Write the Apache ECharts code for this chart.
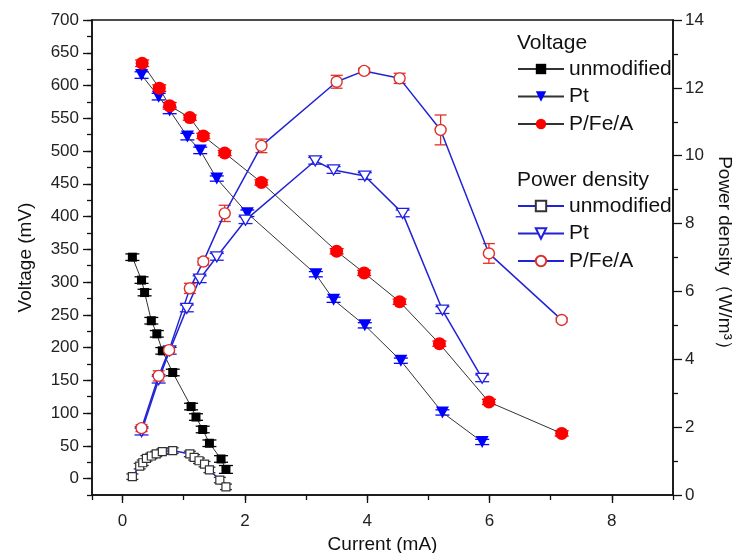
<!DOCTYPE html>
<html>
<head>
<meta charset="utf-8">
<script src="https://cdn.jsdelivr.net/npm/echarts@6/dist/echarts.min.js"></script>
<style>
html,body{margin:0;padding:0;background:#fff;}
#chart{width:748px;height:553px;}
</style>
</head>
<body>
<div id="chart"></div>
<script>
// ---- data ----
const currentVUnmod = [0.16, 0.31, 0.36, 0.47, 0.56, 0.65, 0.82, 1.12, 1.20, 1.31, 1.42, 1.61, 1.69];
const voltUnmod     = [338, 303, 284, 241, 221, 195, 162, 110, 94, 75, 54, 30, 14];
const errVUnmod     = [5, 5, 5, 5, 5, 5, 5, 5, 5, 5, 5, 5, 6];

const currentVPt = [0.31, 0.59, 0.77, 1.06, 1.27, 1.54, 2.04, 3.16, 3.45, 3.96, 4.55, 5.23, 5.88];
const voltPt     = [616, 583, 562, 522, 501, 458, 405, 312, 273, 234, 180, 101, 56];
const errVPt     = [5, 5, 5, 5, 5, 4, 5, 4, 4, 4, 4, 4, 4];

const currentVPFA = [0.32, 0.60, 0.77, 1.10, 1.32, 1.67, 2.27, 3.50, 3.95, 4.53, 5.18, 5.99, 7.18];
const voltPFA     = [634, 596, 569, 551, 523, 497, 452, 347, 314, 270, 206, 117, 69];
const errVPFA     = [5, 5, 5, 4, 4, 4, 4, 4, 4, 4, 4, 4, 4];

const currentPUnmod = [0.16, 0.28, 0.33, 0.39, 0.47, 0.55, 0.65, 0.82, 1.10, 1.17, 1.25, 1.34, 1.42, 1.59, 1.69];
const powerUnmod    = [0.54, 0.85, 0.95, 1.08, 1.15, 1.21, 1.28, 1.31, 1.21, 1.11, 1.01, 0.91, 0.74, 0.44, 0.24];
const errPUnmod     = [0.08, 0.08, 0.08, 0.08, 0.08, 0.08, 0.08, 0.08, 0.08, 0.08, 0.08, 0.08, 0.08, 0.08, 0.08];

const currentPPt = [0.31, 0.59, 0.77, 1.05, 1.26, 1.54, 2.01, 3.15, 3.45, 3.96, 4.58, 5.23, 5.88];
const powerPt    = [1.87, 3.40, 4.25, 5.50, 6.36, 7.02, 8.10, 9.85, 9.58, 9.40, 8.30, 5.45, 3.44];
const errPPt     = [0.1, 0.1, 0.1, 0.1, 0.1, 0.1, 0.1, 0.1, 0.1, 0.1, 0.1, 0.1, 0.1];

const currentPPFA = [0.31, 0.59, 0.76, 1.10, 1.32, 1.67, 2.27, 3.50, 3.95, 4.53, 5.20, 5.99, 7.18];
const powerPFA    = [1.97, 3.51, 4.27, 6.09, 6.88, 8.30, 10.29, 12.18, 12.50, 12.28, 10.76, 7.12, 5.16];
const errPPFA     = [0.1, 0.15, 0.06, 0.15, 0.1, 0.24, 0.2, 0.19, 0.08, 0.15, 0.44, 0.29, 0.06];

const seriesNames = ['unmodified', 'Pt', 'P/Fe/A'];
const legendTitles = ['Voltage', 'Power density'];
const xName = 'Current (mA)';
const yLeftName = 'Voltage (mV)';
const yRightName = 'Power density（W/m³）';

// ---- helpers ----
const FONT = '"Liberation Sans", Arial, sans-serif';
function pairs(xs, ys) { return xs.map((x, i) => [x, ys[i]]); }
function errSeries(xs, ys, es, yAxisIndex, color, capHalf) {
  return {
    type: 'custom', xAxisIndex: 0, yAxisIndex: yAxisIndex, silent: true, z: 2,
    encode: { x: 0, y: 1 },
    data: xs.map((x, i) => [x, ys[i], es[i]]),
    renderItem: function (params, api) {
      const x = api.value(0), y = api.value(1), e = api.value(2);
      const t = api.coord([x, y + e]);
      const b = api.coord([x, y - e]);
      const st = { stroke: color, lineWidth: 1.3 };
      return { type: 'group', children: [
        { type: 'line', shape: { x1: t[0], y1: t[1], x2: b[0], y2: b[1] }, style: st },
        { type: 'line', shape: { x1: t[0] - capHalf, y1: t[1], x2: t[0] + capHalf, y2: t[1] }, style: st },
        { type: 'line', shape: { x1: b[0] - capHalf, y1: b[1], x2: b[0] + capHalf, y2: b[1] }, style: st }
      ]};
    }
  };
}
function lineSeries(name, xs, ys, yAxisIndex, symbol, size, rot, itemStyle, lineColor, lineWidth) {
  return {
    type: 'line', name: name, xAxisIndex: 0, yAxisIndex: yAxisIndex, z: 3,
    data: pairs(xs, ys), symbol: symbol, symbolSize: size, symbolRotate: rot,
    showAllSymbol: true, animation: false,
    itemStyle: itemStyle,
    lineStyle: { color: lineColor, width: lineWidth },
    emphasis: { disabled: true }
  };
}

const chart = echarts.init(document.getElementById('chart'), null, { renderer: 'canvas' });

const labelStyle = { color: '#222', fontSize: 17, fontFamily: FONT };
const nameStyle = { color: '#111', fontSize: 19, fontFamily: FONT };
const axLine = { show: true, onZero: false, lineStyle: { color: '#111', width: 1.5 } };
const noLine = { show: false, onZero: false };

const option = {
  backgroundColor: '#fff',
  animation: false,
  textStyle: { fontFamily: FONT },
  grid: { left: 92, right: 75, top: 20, bottom: 58, containLabel: false, outerBoundsMode: 'none',
          show: true, borderColor: '#111', borderWidth: 1.5, backgroundColor: 'transparent' },
  title: [
    { text: legendTitles[0], left: 517, top: 33, padding: 0, textStyle: { fontSize: 21, fontWeight: 'normal', color: '#111', fontFamily: FONT } },
    { text: legendTitles[1], left: 517, top: 170, padding: 0, textStyle: { fontSize: 21, fontWeight: 'normal', color: '#111', fontFamily: FONT } }
  ],
  legend: [
    { orient: 'vertical', left: 517, top: 58, padding: 0, itemWidth: 46, itemHeight: 13, itemGap: 5.5,
      data: seriesNames.map(n => 'V:' + n), formatter: n => n.slice(2),
      textStyle: { fontSize: 21, color: '#111', fontFamily: FONT, lineHeight: 22 }, selectedMode: false },
    { orient: 'vertical', left: 517, top: 195, padding: 0, itemWidth: 46, itemHeight: 13, itemGap: 5.5,
      data: seriesNames.map(n => 'P:' + n), formatter: n => n.slice(2),
      textStyle: { fontSize: 21, color: '#111', fontFamily: FONT, lineHeight: 22 }, selectedMode: false }
  ],
  xAxis: [
    { type: 'value', min: -0.5, max: 9, splitNumber: 5, position: 'bottom',
      axisLine: axLine,
      axisTick: { show: true, inside: false, length: 8, lineStyle: { color: '#111', width: 1.3 } },
      axisLabel: { showMinLabel: false, showMaxLabel: false, margin: 18, ...labelStyle },
      splitLine: { show: false },
      name: xName, nameLocation: 'middle', nameGap: 34, nameTextStyle: nameStyle },
    { type: 'value', min: -0.5, max: 9, splitNumber: 10, position: 'bottom',
      axisLine: noLine,
      axisTick: { show: true, inside: false, length: 5, lineStyle: { color: '#111', width: 1.3 } },
      axisLabel: { show: false }, splitLine: { show: false } }
  ],
  yAxis: [
    { type: 'value', min: -25, max: 700, splitNumber: 14, position: 'left',
      axisLine: axLine,
      axisTick: { show: true, inside: false, length: 9, lineStyle: { color: '#111', width: 1.3 } },
      axisLabel: { showMinLabel: false, margin: 13, ...labelStyle },
      splitLine: { show: false },
      name: yLeftName, nameLocation: 'middle', nameGap: 57, nameTextStyle: nameStyle },
    { type: 'value', min: -25, max: 700, interval: 25, position: 'left',
      axisLine: noLine,
      axisTick: { show: true, inside: false, length: 5, lineStyle: { color: '#111', width: 1.3 } },
      axisLabel: { show: false }, splitLine: { show: false } },
    { type: 'value', min: 0, max: 14, interval: 2, position: 'right',
      axisLine: axLine,
      axisTick: { show: true, inside: false, length: 9, lineStyle: { color: '#111', width: 1.3 } },
      minorTick: { show: true, splitNumber: 2, length: 5, lineStyle: { color: '#111', width: 1.3 } },
      axisLabel: { margin: 12, ...labelStyle },
      splitLine: { show: false },
      name: yRightName, nameLocation: 'middle', nameGap: 38, nameRotate: -90, nameTextStyle: nameStyle }
  ],
  series: [
    errSeries(currentVUnmod, voltUnmod, errVUnmod, 0, '#000', 7),
    errSeries(currentVPt, voltPt, errVPt, 0, '#0000ff', 7),
    errSeries(currentVPFA, voltPFA, errVPFA, 0, '#ff0000', 7),
    errSeries(currentPUnmod, powerUnmod, errPUnmod, 2, '#333', 6),
    errSeries(currentPPt, powerPt, errPPt, 2, '#2020e0', 7),
    errSeries(currentPPFA, powerPFA, errPPFA, 2, '#e0302a', 6),
    lineSeries('V:' + seriesNames[0], currentVUnmod, voltUnmod, 0, 'rect', 9, 0, { color: '#000' }, '#333', 1),
    lineSeries('V:' + seriesNames[1], currentVPt, voltPt, 0, 'triangle', [13, 12], 180, { color: '#0000ff' }, '#333', 1),
    lineSeries('V:' + seriesNames[2], currentVPFA, voltPFA, 0, 'circle', 13, 0, { color: '#ff0000' }, '#333', 1),
    lineSeries('P:' + seriesNames[0], currentPUnmod, powerUnmod, 2, 'rect', 8, 0, { color: '#fff', borderColor: '#333', borderWidth: 1.2 }, '#2323d6', 1.5),
    lineSeries('P:' + seriesNames[1], currentPPt, powerPt, 2, 'triangle', [12, 10], 180, { color: '#fff', borderColor: '#2020e0', borderWidth: 1.3 }, '#2323d6', 1.5),
    lineSeries('P:' + seriesNames[2], currentPPFA, powerPFA, 2, 'circle', 11, 0, { color: '#fff', borderColor: '#e0302a', borderWidth: 1.4 }, '#2323d6', 1.5)
  ]
};
chart.setOption(option);
</script>
</body>
</html>
